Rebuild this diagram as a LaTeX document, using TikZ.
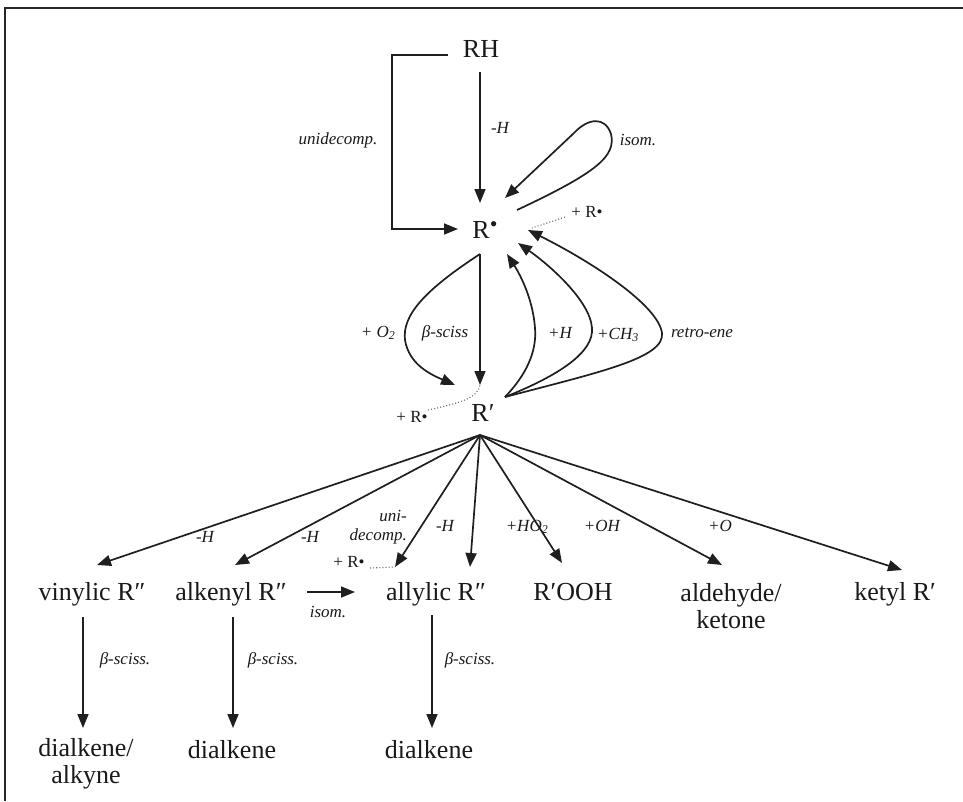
\documentclass[tikz,border=0pt]{standalone}
\usepackage{fontspec}
\setmainfont{Liberation Serif}
\usetikzlibrary{arrows.meta}
\begin{document}
\begin{tikzpicture}[x=1pt,y=-1pt,
  ink/.style={draw=black!88, line width=1.7pt},
  arr/.style={ink, -{Triangle[length=14pt,width=11pt]}},
  dots/.style={draw=black!55, line width=1.1pt, dotted},
  prod/.style={font=\fontsize{26}{27}\selectfont, inner sep=0pt, anchor=base, text=black!90},
  rxn/.style={font=\fontsize{17}{19}\selectfont\itshape, inner sep=0pt, text=black!90},
  sml/.style={font=\fontsize{17}{19}\selectfont, inner sep=0pt, text=black!90}]
\useasboundingbox (0,0) rectangle (963,801);

% frame
\draw[line width=2pt, draw=black!85] (963,8) -- (5,8) -- (5,801);

% species
\node[prod] (RH)   at (481,57)  {RH};
\node[prod] (Rdot) at (485,238) {R\raisebox{7pt}{\fontsize{22}{22}\selectfont\textbullet}};
\node[prod] (Rp)   at (483,421) {R′};
\node[prod] (vin)  at (92,600)  {vinylic R″};
\node[prod] (alk)  at (231,600) {alkenyl R″};
\node[prod] (all)  at (436,600) {allylic R″};
\node[prod] (rooh) at (573,600) {R′OOH};
\node[prod, anchor=center, align=center] (ald) at (731,606) {aldehyde/\\ketone};
\node[prod] (ket)  at (895,600) {ketyl R′};
\node[prod, anchor=center, align=center] (dia1) at (86,764) {dialkene/\\alkyne};
\node[prod] (dia2) at (232,758) {dialkene};
\node[prod] (dia3) at (429,758) {dialkene};

% reaction labels
\node[rxn] (luni)  at (338,140) {unidecomp.};
\node[rxn] (lh1)   at (500,128) {-H};
\node[rxn] (liso1) at (638,140) {isom.};
\node[sml] (pr1)   at (587,212) {+ R\textbullet};
\node[rxn] (lo2)   at (378,333) {+ O\textsubscript{2}};
\node[rxn] (lbeta) at (445,333) {β-sciss};
\node[rxn] (lh2)   at (560,333) {+H};
\node[rxn] (lch3)  at (618,335) {+CH\textsubscript{3}};
\node[rxn] (lre)   at (702,333) {retro-ene};
\node[sml] (pr2)   at (412,417) {+ R\textbullet};
\node[rxn] (lh3)   at (205,537) {-H};
\node[rxn] (lh4)   at (310,537) {-H};
\node[rxn, align=right, anchor=east] (luni2) at (407,527) {uni-\\decomp.};
\node[rxn] (lh5)   at (445,526) {-H};
\node[rxn] (lho2)  at (527,527) {+HO\textsubscript{2}};
\node[rxn] (loh)   at (602,526) {+OH};
\node[rxn] (lo)    at (720,526) {+O};
\node[sml] (pr3)   at (349,562) {+ R\textbullet};
\node[rxn] (liso2) at (328,612) {isom.};
\node[rxn] (lb1)   at (125,660) {β-sciss.};
\node[rxn] (lb2)   at (273,660) {β-sciss.};
\node[rxn] (lb3)   at (470,660) {β-sciss.};

% connector end points
\coordinate (brk)   at (448,55);
\coordinate (rhout) at (480,72);
\coordinate (rdin)  at (480,203);
\coordinate (rduni) at (458,229);
\coordinate (isoS)  at (517,210);
\coordinate (isoE)  at (505,198);
\coordinate (prdA)  at (565,217);
\coordinate (prdB)  at (532,228);
\coordinate (rdout) at (480,254);
\coordinate (rpin)  at (480,385);
\coordinate (o2end) at (455,385);
\coordinate (rpout) at (505,397);
\coordinate (inH)   at (507,254);
\coordinate (inCH)  at (518,243);
\coordinate (inRE)  at (528,230);
\coordinate (prpA)  at (428,410);
\coordinate (fan)   at (480,435);
\coordinate (tvin)  at (97,565);
\coordinate (talk)  at (235,565);
\coordinate (tuni)  at (395,567);
\coordinate (tall)  at (470,567);
\coordinate (trooh) at (562,563);
\coordinate (tald)  at (722,565);
\coordinate (tket)  at (902,570);
\coordinate (prlA)  at (370,568);
\coordinate (isoA)  at (307,592);
\coordinate (isoB)  at (355,592);
\coordinate (vinB)  at (83,617);
\coordinate (vinD)  at (83,728);
\coordinate (alkB)  at (233,617);
\coordinate (alkD)  at (233,728);
\coordinate (allB)  at (432,615);
\coordinate (allD)  at (432,728);

% RH -> R.
\draw[arr] (brk) -- ++(-56,0) |- (rduni);
\draw[arr] (rhout) -- (rdin);
\draw[arr] (isoS) .. controls (598,172) and (616,156) .. (611,134)
                  .. controls (605,116) and (588,118) .. (574,133) -- (isoE);
\draw[dots] (prdA) -- (prdB);

% R. -> R'
\draw[arr] (rdout) -- (rpin);
\draw[arr] (rdout) .. controls (425,290) and (402,315) .. (405,340)
                   .. controls (409,365) and (432,375) .. (o2end);
\draw[dots] (prpA) .. controls (460,403) and (478,398) .. (rpin);

% R' -> R.
\draw[arr] (rpout) .. controls (526,375) and (537,352) .. (535,328)
                   .. controls (533,300) and (521,276) .. (inH);
\draw[arr] (rpout) .. controls (560,375) and (594,352) .. (592,328)
                   .. controls (590,300) and (548,264) .. (inCH);
\draw[arr] (rpout) .. controls (600,372) and (665,358) .. (662,333)
                   .. controls (658,305) and (592,262) .. (inRE);

% R' -> products
\draw[arr] (fan) -- (tvin);
\draw[arr] (fan) -- (talk);
\draw[arr] (fan) -- (tuni);
\draw[arr] (fan) -- (tall);
\draw[arr] (fan) -- (trooh);
\draw[arr] (fan) -- (tald);
\draw[arr] (fan) -- (tket);
\draw[dots] (prlA) -- (tuni);
\draw[arr] (isoA) -- (isoB);

% beta-scission
\draw[arr] (vinB) -- (vinD);
\draw[arr] (alkB) -- (alkD);
\draw[arr] (allB) -- (allD);
\end{tikzpicture}
\end{document}
